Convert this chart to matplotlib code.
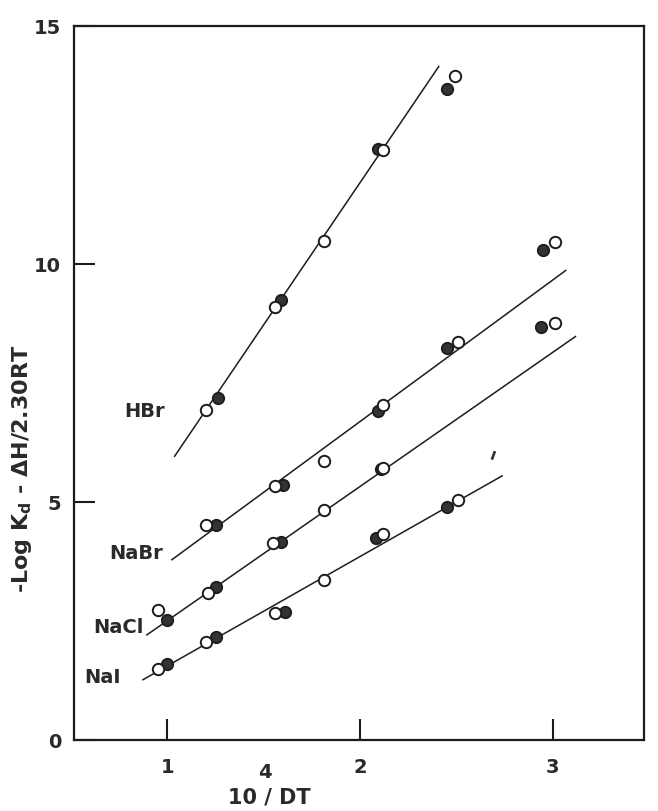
import matplotlib
matplotlib.use("Agg")
import matplotlib.pyplot as plt

# ---- data ----
hbr_open_x = [1.20, 1.56, 1.81, 2.12, 2.49]
hbr_open_y = [6.94, 9.11, 10.49, 12.41, 13.96]
hbr_fill_x = [1.26, 1.59, 2.09, 2.45]
hbr_fill_y = [7.18, 9.25, 12.42, 13.69]
hbr_line_x = [1.035, 2.41]
hbr_line_y = [5.95, 14.17]

nabr_open_x = [1.20, 1.56, 1.81, 2.12, 2.51, 3.01]
nabr_open_y = [4.53, 5.33, 5.87, 7.04, 8.36, 10.46]
nabr_fill_x = [1.25, 1.60, 2.09, 2.45, 2.95]
nabr_fill_y = [4.51, 5.35, 6.92, 8.24, 10.29]
nabr_line_x = [1.02, 3.07]
nabr_line_y = [3.78, 9.88]

nacl_open_x = [0.95, 1.21, 1.55, 1.81, 2.12, 3.01]
nacl_open_y = [2.73, 3.10, 4.14, 4.84, 5.72, 8.77]
nacl_fill_x = [1.00, 1.25, 1.59, 2.11, 2.94]
nacl_fill_y = [2.52, 3.21, 4.17, 5.70, 8.69]
nacl_line_x = [0.89, 3.12]
nacl_line_y = [2.20, 8.49]

nai_open_x = [0.95, 1.20, 1.56, 1.81, 2.12, 2.51]
nai_open_y = [1.50, 2.06, 2.67, 3.36, 4.33, 5.04]
nai_fill_x = [1.00, 1.25, 1.61, 2.08, 2.45]
nai_fill_y = [1.59, 2.16, 2.70, 4.25, 4.90]
nai_line_x = [0.87, 2.74]
nai_line_y = [1.26, 5.56]

series_labels = ["HBr", "NaBr", "NaCl", "NaI"]
label_x = [0.985, 0.975, 0.875, 0.76]
label_y = [6.90, 3.93, 2.36, 1.31]

x_ticks = [1, 2, 3]
y_ticks = [0, 5, 10, 15]

# ---- drawing ----
INK = "#1c1c1c"
TXT = "#2a2a2a"
fig = plt.figure(figsize=(6.58, 8.11), dpi=100)
ax = fig.add_axes([0.112, 0.0875, 0.866, 0.880])

series = [
    (hbr_open_x, hbr_open_y, hbr_fill_x, hbr_fill_y, hbr_line_x, hbr_line_y),
    (nabr_open_x, nabr_open_y, nabr_fill_x, nabr_fill_y, nabr_line_x, nabr_line_y),
    (nacl_open_x, nacl_open_y, nacl_fill_x, nacl_fill_y, nacl_line_x, nacl_line_y),
    (nai_open_x, nai_open_y, nai_fill_x, nai_fill_y, nai_line_x, nai_line_y),
]

for ox, oy, fx, fy, lx, ly in series:
    ax.plot(lx, ly, color=INK, lw=1.1, zorder=2, solid_capstyle="butt")
    ax.plot(fx, fy, linestyle="none", marker="o", ms=8.2, mfc="#333333",
            mec=INK, mew=1.3, zorder=3)
    ax.plot(ox, oy, linestyle="none", marker="o", ms=8.2, mfc="white",
            mec=INK, mew=1.4, zorder=4)

for lab, tx, ty in zip(series_labels, label_x, label_y):
    ax.text(tx, ty, lab, ha="right", va="center", fontsize=14,
            fontweight="bold", color=TXT)

# small stray mark in the original
ax.text(2.69, 5.97, "ı", ha="center", va="center", fontsize=11,
        fontweight="bold", color=TXT, rotation=-20)

ax.set_xlim(0.514, 3.47)
ax.set_ylim(0, 15.0)
ax.set_xticks(x_ticks)
ax.set_yticks(y_ticks)
ax.set_xticklabels([str(t) for t in x_ticks])
ax.set_yticklabels([str(t) for t in y_ticks])
ax.tick_params(axis="both", direction="in", length=15, width=1.5,
               color=INK, labelsize=14, labelcolor=TXT)
ax.tick_params(axis="x", pad=13)
ax.tick_params(axis="y", pad=9)
for lbl in ax.get_xticklabels() + ax.get_yticklabels():
    lbl.set_fontweight("bold")

for sp in ax.spines.values():
    sp.set_linewidth(1.6)
    sp.set_color(INK)

ax.set_ylabel(r"-Log K$_{\mathbf{d}}$ - ΔH/2.30RT", fontsize=16,
              fontweight="bold", color=TXT)
ax.yaxis.set_label_coords(-0.07, 0.38)

ax.text(0.344, -0.080, "10 / DT", transform=ax.transAxes, ha="center",
        va="center", fontsize=15, fontweight="bold", color=TXT)
ax.text(0.336, -0.046, "4", transform=ax.transAxes, ha="center",
        va="center", fontsize=14, fontweight="bold", color=TXT)

fig.savefig("out.png", dpi=100)
